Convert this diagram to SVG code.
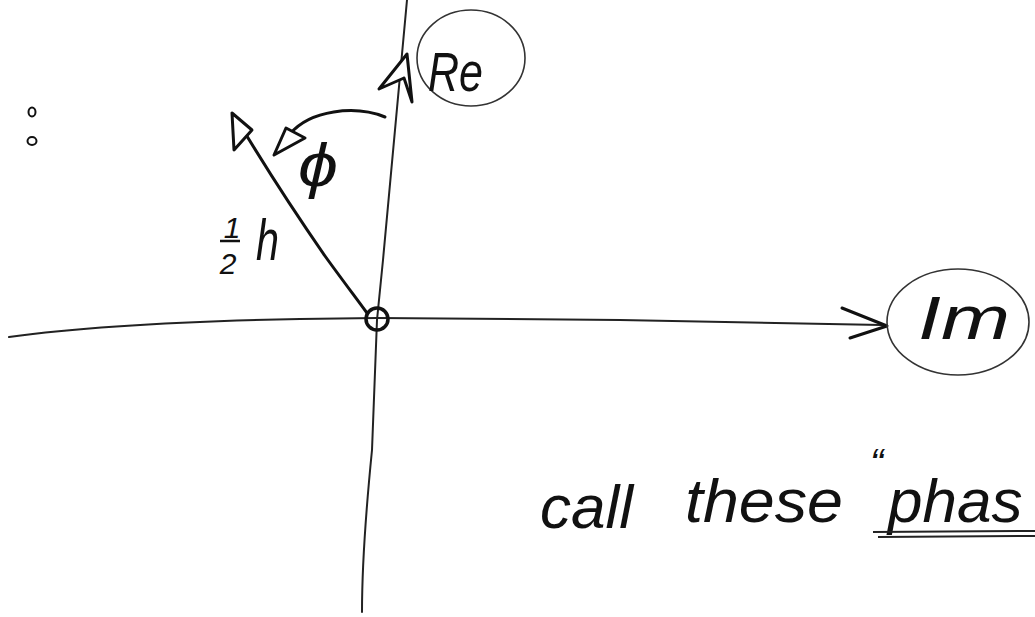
<svg xmlns="http://www.w3.org/2000/svg" width="1035" height="617" viewBox="0 0 1035 617">
<style>
.hand{font-family:"Liberation Sans","DejaVu Sans",sans-serif;font-style:italic;fill:#111}
.axis{fill:none;stroke:#222;stroke-width:2;stroke-linecap:round}
.bold{fill:none;stroke:#111;stroke-width:3;stroke-linecap:round;stroke-linejoin:round}
.head{fill:#fff;stroke:#111;stroke-width:3;stroke-linejoin:round;stroke-linecap:round}
.ring{fill:none;stroke:#333;stroke-width:1.6}
</style>
<rect width="1035" height="617" fill="#fff"/>
<g id="connectors">
  <path class="axis" d="M9,337 C60,330 150,322 300,319 L377,318 L620,320 L882,325"/>
  <path class="axis" d="M407,0 L383,260 L377,320 L372,450 C366,510 362,560 362,612"/>
  <path class="bold" d="M367,313 C350,290 335,270 325,256 C300,220 270,175 236,118"/>
  <polygon class="head" points="232,113 234,150 252,130"/>
  <path class="bold" d="M385,117 C355,105 310,110 290,134"/>
  <polygon class="head" points="274,155 286,128 305,138"/>
  <polygon class="head" stroke-width="4" points="379,89 407,54 412,102 404,78"/>
  <polyline class="bold" points="842,308 887,326 850,338"/>
</g>
<g id="origin">
  <circle cx="377" cy="319" r="11" fill="none" stroke="#111" stroke-width="3.5"/>
</g>
<g id="re-label">
  <ellipse class="ring" cx="471" cy="58" rx="54" ry="48"/>
  <text class="hand" x="428" y="91" font-size="56" textLength="55" lengthAdjust="spacingAndGlyphs">Re</text>
</g>
<g id="im-label">
  <ellipse class="ring" cx="958" cy="322" rx="71" ry="53"/>
  <text class="hand" x="918" y="339" font-size="62" textLength="92" lengthAdjust="spacingAndGlyphs">Im</text>
</g>
<g id="phi">
  <text class="hand" x="298" y="186" font-size="62" font-style="normal" textLength="40" lengthAdjust="spacingAndGlyphs">ϕ</text>
</g>
<g id="half-h">
  <text class="hand" x="232" y="238" font-size="30" text-anchor="middle">1</text>
  <line x1="220" y1="241" x2="240" y2="241" stroke="#111" stroke-width="2.5"/>
  <text class="hand" x="228" y="274" font-size="30" text-anchor="middle">2</text>
  <text class="hand" x="256" y="260" font-size="58" textLength="23" lengthAdjust="spacingAndGlyphs">h</text>
</g>
<g id="dots">
  <ellipse cx="32" cy="112" rx="3.5" ry="4.5" fill="none" stroke="#111" stroke-width="2"/>
  <ellipse cx="32" cy="141" rx="4.5" ry="4" fill="none" stroke="#111" stroke-width="2"/>
</g>
<g id="caption">
  <text class="hand" y="528" font-size="62"><tspan x="540" textLength="93" lengthAdjust="spacingAndGlyphs">call</tspan><tspan x="685" y="522" textLength="158" lengthAdjust="spacingAndGlyphs">these</tspan><tspan x="870" y="477" font-size="40">“</tspan><tspan x="888" y="522">phas</tspan></text>
  <line x1="873" y1="532" x2="1035" y2="531" stroke="#222" stroke-width="2"/>
  <line x1="878" y1="537" x2="1035" y2="536" stroke="#222" stroke-width="2"/>
</g>
</svg>
